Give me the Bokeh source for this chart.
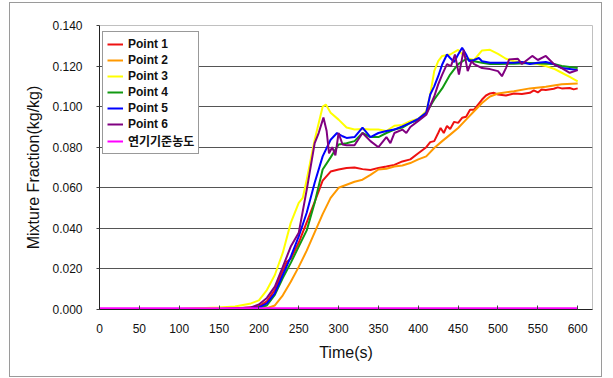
from bokeh.plotting import figure
from bokeh.models import Range1d, FixedTicker, PrintfTickFormatter, Legend, LegendItem
from bokeh.embed import file_html
from bokeh.resources import INLINE

# ---- data ----
x_ticks = [0, 50, 100, 150, 200, 250, 300, 350, 400, 450, 500, 550, 600]
y_ticks = [0.0, 0.02, 0.04, 0.06, 0.08, 0.10, 0.12, 0.14]

t1 = [0, 100, 150, 180, 200, 210, 220, 230, 235, 240, 250, 260, 270, 280, 290, 300, 310, 320, 330, 340,
      350, 360, 370, 380, 390, 400, 405, 410, 415, 420, 425, 428, 432, 436, 440, 445, 450, 455, 460, 465,
      470, 475, 480, 485, 490, 495, 500, 510, 520, 530, 540, 545, 550, 555, 560, 570, 575, 580, 590, 595, 600]
y1 = [0.0002, 0.0003, 0.0005, 0.0008, 0.0015, 0.0040, 0.0096, 0.0190, 0.0235, 0.0250, 0.0330, 0.0430,
      0.0530, 0.0635, 0.0680, 0.0690, 0.0698, 0.0700, 0.0692, 0.0688, 0.0698, 0.0705, 0.0713, 0.0730,
      0.0740, 0.0770, 0.0785, 0.0800, 0.0825, 0.0830, 0.0870, 0.0895, 0.0870, 0.0905, 0.0890, 0.0925,
      0.0920, 0.0945, 0.0950, 0.0985, 0.0985, 0.1010, 0.1035, 0.1055, 0.1065, 0.1068, 0.1060, 0.1055,
      0.1065, 0.1062, 0.1068, 0.1080, 0.1070, 0.1085, 0.1082, 0.1088, 0.1095, 0.1090, 0.1092, 0.1085, 0.1090]

t2 = [0, 150, 200, 210, 220, 230, 240, 250, 260, 270, 280, 290, 300, 310, 320, 330, 340, 350, 360, 370,
      380, 390, 400, 410, 420, 430, 440, 450, 460, 470, 480, 490, 500, 520, 540, 560, 580, 600]
y2 = [0.0001, 0.0002, 0.0003, 0.0006, 0.0020, 0.0070, 0.0137, 0.0210, 0.0290, 0.0380, 0.0470, 0.0550,
      0.0600, 0.0615, 0.0630, 0.0640, 0.0664, 0.0690, 0.0694, 0.0705, 0.0710, 0.0722, 0.0740, 0.0755,
      0.0796, 0.0830, 0.0862, 0.0895, 0.0936, 0.0977, 0.1018, 0.1050, 0.1065, 0.1076, 0.1090, 0.1098,
      0.1110, 0.1114]

t3 = [0, 100, 150, 170, 190, 200, 210, 220, 230, 240, 250, 255, 260, 270, 280, 284, 290, 300, 310, 320,
      330, 340, 350, 360, 370, 380, 390, 400, 410, 415, 420, 425, 430, 440, 450, 460, 470, 480, 490, 500,
      510, 520, 530, 540, 550, 560, 570, 580, 590, 600]
y3 = [0.0002, 0.0003, 0.0010, 0.0015, 0.0030, 0.0045, 0.0096, 0.0170, 0.0280, 0.0427, 0.0526, 0.0550,
      0.0640, 0.0837, 0.1000, 0.1010, 0.0970, 0.0936, 0.0897, 0.0887, 0.0890, 0.0887, 0.0887, 0.0880,
      0.0906, 0.0910, 0.0928, 0.0940, 0.0977, 0.1060, 0.1175, 0.1224, 0.1250, 0.1257, 0.1280, 0.1240,
      0.1230, 0.1277, 0.1280, 0.1260, 0.1236, 0.1224, 0.1220, 0.1215, 0.1210, 0.1200, 0.1187, 0.1167,
      0.1147, 0.1125]

t4 = [0, 150, 190, 200, 210, 220, 230, 240, 250, 260, 270, 280, 290, 300, 310, 320, 330, 340, 350, 360,
      370, 380, 390, 400, 410, 420, 430, 440, 450, 460, 470, 480, 490, 500, 520, 540, 560, 570, 580, 590, 600]
y4 = [0.0001, 0.0002, 0.0005, 0.0010, 0.0020, 0.0072, 0.0155, 0.0230, 0.0310, 0.0390, 0.0526, 0.0690,
      0.0750, 0.0813, 0.0820, 0.0830, 0.0870, 0.0850, 0.0850, 0.0870, 0.0887, 0.0897, 0.0920, 0.0935,
      0.0970, 0.1035, 0.1090, 0.1158, 0.1210, 0.1235, 0.1224, 0.1216, 0.1210, 0.1210, 0.1212, 0.1215,
      0.1212, 0.1210, 0.1200, 0.1195, 0.1190]

t5 = [0, 150, 190, 200, 210, 220, 230, 240, 250, 260, 270, 280, 290, 298, 305, 310, 320, 330, 340, 350,
      360, 370, 380, 390, 400, 410, 415, 420, 425, 430, 436, 440, 445, 450, 455, 460, 464, 470, 476, 480,
      490, 500, 510, 520, 530, 540, 550, 560, 570, 580, 590, 600]
y5 = [0.0001, 0.0002, 0.0005, 0.0010, 0.0030, 0.0080, 0.0170, 0.0260, 0.0360, 0.0477, 0.0625, 0.0755,
      0.0837, 0.0870, 0.0854, 0.0846, 0.0850, 0.0897, 0.0850, 0.0870, 0.0880, 0.0887, 0.0903, 0.0920,
      0.0940, 0.0970, 0.1060, 0.1100, 0.1150, 0.1208, 0.1257, 0.1240, 0.1220, 0.1257, 0.1290, 0.1257,
      0.1224, 0.1230, 0.1240, 0.1224, 0.1216, 0.1216, 0.1216, 0.1216, 0.1220, 0.1210, 0.1216, 0.1220,
      0.1210, 0.1190, 0.1185, 0.1180]

t6 = [0, 150, 190, 200, 210, 220, 230, 240, 250, 260, 270, 275, 281, 285, 288, 292, 296, 300, 305, 310,
      320, 330, 340, 350, 360, 365, 370, 380, 385, 390, 400, 410, 420, 425, 430, 436, 441, 446, 451, 457,
      462, 467, 470, 480, 490, 500, 505, 510, 514, 525, 530, 543, 550, 560, 570, 580, 590, 600]
y6 = [0.0001, 0.0003, 0.0010, 0.0025, 0.0057, 0.0113, 0.0210, 0.0310, 0.0378, 0.0590, 0.0820, 0.0870,
      0.0946, 0.0880, 0.0770, 0.0800, 0.0760, 0.0870, 0.0813, 0.0810, 0.0810, 0.0870, 0.0830, 0.0800,
      0.0850, 0.0820, 0.0870, 0.0887, 0.0870, 0.0900, 0.0930, 0.0960, 0.1050, 0.1110, 0.1158, 0.1210,
      0.1200, 0.1257, 0.1158, 0.1280, 0.1175, 0.1224, 0.1210, 0.1190, 0.1185, 0.1175, 0.1150, 0.1190,
      0.1233, 0.1236, 0.1210, 0.1250, 0.1230, 0.1250, 0.1210, 0.1190, 0.1167, 0.1180]

t_ref = [0, 600]
y_ref = [0.0006, 0.0006]

names = ["Point 1", "Point 2", "Point 3", "Point 4", "Point 5", "Point 6", "연기기준농도"]
colors = ["#ee1111", "#ff9900", "#ffff00", "#119911", "#0000ff", "#800080", "#ff00ff"]

# ---- figure ----
p = figure(width=593, height=375, output_backend="svg", toolbar_location=None,
           x_range=Range1d(0, 618.6), y_range=Range1d(0, 0.14),
           min_border_left=89, min_border_right=11, min_border_top=22, min_border_bottom=69)
p.styles = {"border": "1px solid #9a9a9a", "box-sizing": "border-box",
            "margin-left": "9px", "margin-top": "2px"}
p.background_fill_color = "white"
p.border_fill_color = "white"
p.outline_line_color = "#c0c0c0"
p.outline_line_width = 1

series = [(t1, y1), (t2, y2), (t3, y3), (t4, y4), (t5, y5), (t6, y6), (t_ref, y_ref)]
renderers = []
for (tx, ty), c in zip(series, colors):
    r = p.line(tx, ty, line_color=c, line_width=2)
    renderers.append(r)

p.xaxis.ticker = FixedTicker(ticks=x_ticks)
p.yaxis.ticker = FixedTicker(ticks=y_ticks)
p.yaxis.formatter = PrintfTickFormatter(format="%.3f")
p.xgrid.visible = False
p.ygrid.ticker = FixedTicker(ticks=[0.02, 0.04, 0.06, 0.08, 0.10, 0.12])
p.ygrid.grid_line_color = "#555555"
p.ygrid.grid_line_width = 1

for ax in (p.xaxis[0], p.yaxis[0]):
    ax.axis_line_color = "#222222"
    ax.major_tick_line_color = "#444444"
    ax.minor_tick_line_color = None
    ax.major_label_text_font = "Liberation Sans"
    ax.major_label_text_font_size = "12px"
    ax.major_label_text_color = "#111111"
    ax.axis_label_text_font = "Liberation Sans"
    ax.axis_label_text_font_size = "16px"
    ax.axis_label_text_font_style = "normal"
    ax.axis_label_text_color = "#111111"

p.xaxis.major_tick_in = 4
p.xaxis.major_tick_out = 0
p.xaxis.major_label_standoff = 14
p.xaxis.axis_label = "Time(s)"
p.xaxis.axis_label_standoff = 8

p.yaxis.major_tick_in = 0
p.yaxis.major_tick_out = 3
p.yaxis.major_label_standoff = 14
p.yaxis.axis_label = "Mixture Fraction(kg/kg)"
p.yaxis.axis_label_standoff = 7

legend = Legend(items=[LegendItem(label=n, renderers=[r]) for n, r in zip(names, renderers)],
                location=(3, 155), orientation="vertical")
legend.padding = 4
legend.margin = 0
legend.spacing = 0
legend.glyph_height = 16
legend.label_height = 16
legend.glyph_width = 16
legend.label_standoff = 5
legend.label_text_font = "Liberation Sans, Noto Sans CJK KR"
legend.label_text_font_size = "12px"
legend.label_text_font_style = "bold"
legend.label_text_color = "#111111"
legend.border_line_color = "#333333"
legend.border_line_width = 1
legend.background_fill_color = "white"
legend.background_fill_alpha = 1.0
p.add_layout(legend, "center")

open("out.html", "w").write(file_html(p, INLINE))
